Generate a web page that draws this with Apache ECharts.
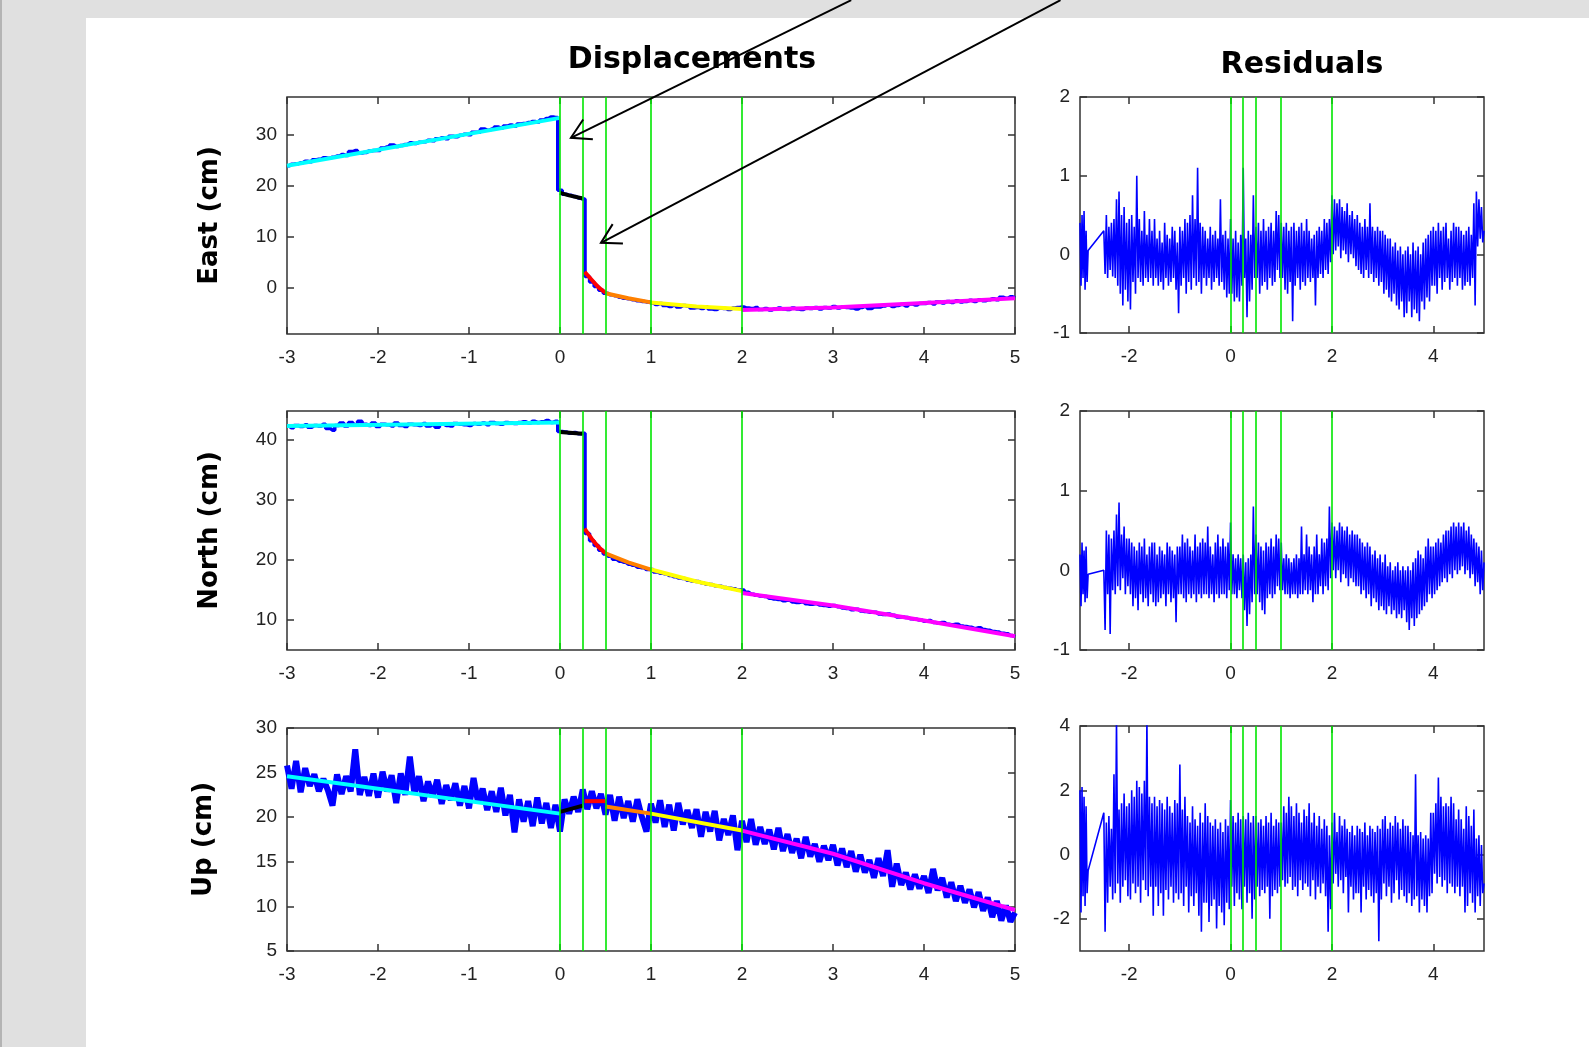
<!doctype html>
<html lang="en">
<head>
<meta charset="utf-8" />
<title>Displacements and residuals</title>
<script src="https://cdn.jsdelivr.net/npm/echarts@6/dist/echarts.min.js"></script>
<style>
  html, body { margin: 0; padding: 0; }
  body { width: 1589px; height: 1047px; background: #e0e0e0; position: relative; overflow: hidden; }
  #edge { position: absolute; left: 0; top: 0; width: 2px; height: 100%; background: #b4b4b4; }
  #sheet { position: absolute; left: 86px; top: 18px; right: 0; bottom: 0; background: #fff; }
  #chart { position: absolute; left: 0; top: 0; width: 1589px; height: 1047px; }
</style>
</head>
<body>
<div id="edge"></div>
<div id="sheet"></div>
<div id="chart"></div>
<script>
// sampling times (years); displacements every 0.05 yr from -3 to 5
const dispTimes = [];
for (let i = 0; i <= 160; i++) dispTimes.push(Math.round((-3 + i * 0.05) * 100) / 100);
// residuals: short piece before the data gap (every 0.02 yr), then every 0.025 yr from -2.5 to 5
const resTimes = [];
for (let i = 0; i <= 8; i++) resTimes.push(Math.round((-2.97 + i * 0.02) * 1000) / 1000);
for (let i = 0; i <= 300; i++) resTimes.push(Math.round((-2.5 + i * 0.025) * 1000) / 1000);

const eventTimes = [0, 0.25, 0.5, 1, 2];

// observed displacements (cm)
const eastObs = [
  24.0, 24.3, 24.4, 24.6, 24.9, 24.8, 25.2, 25.3, 25.6, 25.5,   // -3.00
  25.7, 25.9, 26.2, 26.0, 26.8, 27.0, 26.5, 26.6, 26.9, 27.0,   // -2.50
  27.0, 27.5, 27.7, 28.1, 27.8, 28.0, 28.2, 28.5, 28.4, 28.6,   // -2.00
  28.7, 29.0, 28.9, 29.3, 29.5, 29.3, 29.8, 29.7, 30.0, 30.2,   // -1.50
  30.1, 30.6, 30.6, 31.2, 31.0, 31.2, 31.6, 31.4, 31.8, 32.0,   // -1.00
  31.8, 32.2, 32.3, 32.5, 32.7, 32.6, 33.0, 33.3, 33.6, 33.5,   // -0.50
  19.2, 18.4, 18.2, 18.0, 17.7, 17.5, 2.3, 1.2, 0.3, -0.4,      //  0.00
  -1.0, -1.3, -1.5, -1.8, -2.0, -2.1, -2.3, -2.5, -2.6, -2.7,   //  0.50
  -2.9, -3.2, -3.0, -3.4, -3.6, -3.3, -3.7, -3.4, -3.5, -3.9,   //  1.00
  -3.8, -4.0, -3.7, -4.1, -4.2, -3.9, -4.0, -4.2, -3.9, -3.8,   //  1.50
  -3.7, -3.9, -4.0, -3.8, -4.2, -4.0, -4.3, -4.1, -3.9, -4.1,   //  2.00
  -4.2, -3.9, -4.1, -4.2, -3.9, -4.0, -3.8, -4.1, -3.8, -3.9,   //  2.50
  -3.6, -3.9, -3.7, -3.8, -3.9, -4.1, -3.8, -3.6, -4.0, -3.7,   //  3.00
  -3.7, -3.5, -3.3, -3.6, -3.4, -3.2, -3.5, -3.1, -3.3, -3.0,   //  3.50
  -3.0, -2.8, -3.1, -2.7, -2.9, -2.6, -2.8, -2.5, -2.7, -2.6,   //  4.00
  -2.4, -2.6, -2.3, -2.5, -2.3, -2.1, -2.3, -1.8, -2.0, -1.7,   //  4.50
  -1.9
];
const northObs = [
  42.3, 42.0, 42.4, 42.2, 42.5, 42.1, 42.4, 42.3, 42.6, 41.9,
  41.6, 42.4, 42.8, 42.3, 42.9, 42.5, 43.1, 42.6, 42.4, 42.8,
  42.2, 42.6, 42.5, 42.3, 42.8, 42.4, 42.2, 42.6, 42.5, 42.4,
  42.7, 42.3, 42.5, 42.1, 42.6, 42.4, 42.3, 42.7, 42.6, 42.5,
  42.4, 42.7, 42.6, 42.8, 42.5, 42.9, 42.7, 42.6, 42.9, 42.8,
  42.7, 42.9, 43.0, 42.8, 43.1, 42.9, 43.0, 43.2, 42.9, 43.1,
  41.4, 41.3, 41.1, 41.2, 41.0, 41.1, 24.4, 23.2, 22.4, 21.6,
  21.0, 20.6, 20.1, 19.8, 19.6, 19.3, 19.1, 18.8, 18.7, 18.4,
  18.4, 18.0, 17.8, 17.7, 17.4, 17.2, 17.0, 16.9, 16.6, 16.5,
  16.4, 16.2, 16.0, 15.9, 15.7, 15.6, 15.4, 15.3, 15.2, 15.0,
  15.0, 14.6, 14.3, 14.1, 14.0, 13.9, 13.6, 13.5, 13.4, 13.2,
  13.3, 13.0, 12.9, 13.0, 12.7, 12.6, 12.7, 12.5, 12.4, 12.3,
  12.4, 12.2, 12.0, 11.9, 11.7, 11.8, 11.5, 11.4, 11.3, 11.3,
  11.0, 10.9, 11.0, 10.8, 10.5, 10.5, 10.4, 10.2, 10.1, 10.0,
  9.8, 9.9, 9.6, 9.5, 9.6, 9.3, 9.2, 9.3, 9.0, 8.9,
  8.8, 8.6, 8.7, 8.4, 8.3, 8.1, 8.0, 7.8, 7.7, 7.4,
  7.2
];
const upObs = [
  25.8, 23.2, 26.3, 22.8, 25.5, 23.5, 24.8, 22.9, 24.3, 23.0,
  21.3, 24.8, 22.6, 24.6, 22.9, 27.6, 22.5, 24.5, 22.4, 24.9,
  22.2, 25.1, 22.9, 24.7, 21.6, 24.9, 22.5, 26.8, 22.6, 24.6,
  21.8, 24.0, 22.3, 24.2, 21.5, 23.6, 21.9, 23.8, 21.3, 23.5,
  21.0, 24.4, 21.6, 23.2, 20.8, 22.9, 20.6, 23.3, 20.2, 22.5,
  18.3, 22.0, 19.5, 21.8, 19.0, 22.2, 19.3, 21.6, 18.8, 21.4,
  18.4, 22.0, 20.4, 22.3, 20.6, 23.1, 20.9, 22.9, 21.0, 22.6,
  20.3, 22.5, 19.6, 22.3, 19.9, 21.8, 19.5, 22.0, 20.0, 18.4,
  21.5, 19.4, 21.9, 18.9, 21.4, 18.5, 21.6, 19.2, 20.8, 18.8,
  20.9, 17.8, 20.6, 18.4, 20.7, 17.4, 19.8, 18.0, 20.2, 16.3,
  19.6, 17.2, 19.8, 16.9, 18.9, 17.0, 18.6, 16.4, 18.8, 16.2,
  18.1, 16.0, 17.6, 15.4, 17.8, 15.6, 17.0, 15.0, 16.8, 15.2,
  16.9, 14.6, 16.5, 14.4, 16.2, 13.9, 15.8, 13.8, 15.2, 13.2,
  15.4, 13.4, 16.3, 12.2, 14.8, 12.4, 13.8, 11.9, 13.6, 12.0,
  13.4, 11.5, 14.2, 11.8, 13.2, 11.0, 12.7, 10.6, 12.3, 10.4,
  11.9, 9.9, 11.6, 9.5, 11.0, 8.8, 10.6, 8.4, 10.1, 8.3,
  9.3
];

// fitted model pieces, in order: pre-event, 0-0.25, 0.25-0.5, 0.5-1, 1-2, 2-5
const segColors = ['#00ffff', '#000000', '#ff0000', '#ff8000', '#ffff00', '#ff00ff'];
const eastModel = [
  [[-3, 24.0], [0, 33.4]],
  [[0, 18.7], [0.1, 18.2], [0.25, 17.6]],
  [[0.27, 3.2], [0.35, 1.6], [0.42, 0.2], [0.5, -0.9]],
  [[0.5, -1.0], [0.75, -2.0], [1.0, -2.8]],
  [[1.0, -2.8], [1.5, -3.6], [2.0, -4.1]],
  [[2.0, -4.3], [3.0, -3.8], [4.0, -2.9], [5.0, -2.0]]
];
const northModel = [
  [[-3, 42.3], [0, 42.9]],
  [[0, 41.3], [0.25, 41.0]],
  [[0.27, 25.2], [0.35, 23.5], [0.42, 22.2], [0.5, 21.1]],
  [[0.5, 21.1], [0.75, 19.6], [1.0, 18.4]],
  [[1.0, 18.4], [1.5, 16.4], [2.0, 14.8]],
  [[2.0, 14.5], [3.0, 12.4], [4.0, 9.9], [5.0, 7.3]]
];
const upModel = [
  [[-3, 24.6], [0, 20.4]],
  [[0, 20.6], [0.25, 21.3]],
  [[0.27, 21.8], [0.5, 21.8]],
  [[0.5, 21.2], [1.0, 20.4]],
  [[1.0, 20.4], [2.0, 18.5]],
  [[2.0, 18.5], [3.0, 15.9], [4.0, 12.6], [5.0, 9.6]]
];

// residuals (cm): 9 values before the gap, then 20 per half year from -2.5
const eastRes = [
  0.4, -0.4, 0.5, -0.3, 0.55, -0.45, 0.3, -0.35, 0.05,
  0.3, -0.25, 0.5, -0.3, 0.35, -0.2, 0.4, -0.28, 0.45, -0.3, 0.7, -0.4, 0.8, -0.5, 0.5, -0.65, 0.6, -0.45, 0.4, -0.6,         // -2.5
  0.45, -0.7, 0.5, -0.35, 0.35, -0.5, 1.0, -0.3, 0.45, -0.35, 0.3, -0.4, 0.55, -0.3, 0.25, -0.35, 0.45, -0.3, 0.3, -0.4,      // -2.0
  0.45, -0.3, 0.2, -0.4, 0.3, -0.35, 0.15, -0.45, 0.4, -0.3, 0.25, -0.4, 0.2, -0.35, 0.35, -0.3, 0.3, -0.45, 0.15, -0.75,     // -1.5
  0.35, -0.4, 0.3, -0.3, 0.45, -0.5, 0.4, -0.35, 0.5, -0.45, 0.75, -0.3, 0.45, -0.4, 1.1, -0.35, 0.4, -0.5, 0.35, -0.3,      // -1.0
  0.3, -0.4, 0.2, -0.3, 0.35, -0.45, 0.25, -0.35, 0.3, -0.3, 0.2, -0.4, 0.7, -0.35, 0.25, -0.45, 0.3, -0.55, 0.2, -0.5,       // -0.5
  0.45, -0.5, 0.2, -0.6, 0.3, -0.55, 0.15, -0.6, 0.25, -0.4, 1.1, -0.3, 0.2, -0.8, 0.3, -0.6, 0.25, -0.45, 0.75, -0.3,        //  0.0
  0.35, -0.3, 0.4, -0.5, 0.3, -0.4, 0.45, -0.35, 0.3, -0.45, 0.35, -0.3, 0.4, -0.4, 0.3, -0.35, 0.55, -0.2, 0.5, -0.3,        //  0.5
  0.4, -0.3, 0.35, -0.45, 0.4, -0.5, 0.3, -0.35, 0.35, -0.85, 0.4, -0.4, 0.3, -0.3, 0.35, -0.45, 0.4, -0.35, 0.3, -0.4,       //  1.0
  0.45, -0.3, 0.3, -0.35, 0.2, -0.3, 0.25, -0.65, 0.3, -0.3, 0.35, -0.25, 0.3, -0.3, 0.45, -0.2, 0.4, -0.25, 0.45, -0.1,      //  1.5
  0.75, 0.0, 0.7, 0.05, 0.65, 0.1, 0.7, -0.05, 0.6, 0.05, 0.55, 0.0, 0.65, -0.1, 0.5, 0.0, 0.55, -0.05, 0.45, -0.15,          //  2.0
  0.5, -0.2, 0.4, -0.25, 0.35, -0.3, 0.45, -0.2, 0.35, -0.3, 0.65, -0.25, 0.35, -0.35, 0.3, -0.3, 0.35, -0.4, 0.3, -0.35,     //  2.5
  0.3, -0.5, 0.25, -0.45, 0.2, -0.55, 0.2, -0.6, 0.1, -0.5, 0.15, -0.65, 0.05, -0.7, 0.1, -0.6, 0.0, -0.8, 0.05, -0.75,       //  3.0
  0.1, -0.6, 0.0, -0.8, 0.15, -0.7, 0.05, -0.75, 0.1, -0.85, 0.0, -0.6, 0.15, -0.7, 0.2, -0.55, 0.25, -0.6, 0.3, -0.4,        //  3.5
  0.35, -0.4, 0.3, -0.5, 0.4, -0.3, 0.3, -0.45, 0.35, -0.35, 0.4, -0.3, 0.2, -0.45, 0.3, -0.35, 0.4, -0.3, 0.35, -0.4,        //  4.0
  0.35, -0.3, 0.3, -0.45, 0.25, -0.4, 0.3, -0.35, 0.35, -0.4, 0.25, -0.3, 0.65, -0.65, 0.8, 0.1, 0.7, 0.2, 0.6, 0.15,         //  4.5
  0.3
];
const northRes = [
  0.2, -0.45, 0.35, -0.3, 0.25, -0.4, 0.3, -0.35, -0.05,
  0.0, -0.75, 0.5, -0.3, 0.45, -0.8, 0.4, -0.25, 0.5, -0.3, 0.7, -0.2, 0.85, -0.25, 0.45, -0.1, 0.55, -0.3, 0.4, -0.2,
  0.4, -0.3, 0.35, -0.45, 0.3, -0.35, 0.25, -0.5, 0.35, -0.3, 0.3, -0.4, 0.4, -0.35, 0.2, -0.45, 0.3, -0.3, 0.35, -0.4,
  0.35, -0.45, 0.2, -0.4, 0.3, -0.35, 0.25, -0.3, 0.2, -0.45, 0.35, -0.3, 0.3, -0.4, 0.25, -0.35, 0.2, -0.65, 0.3, -0.3,
  0.3, -0.3, 0.45, -0.35, 0.35, -0.4, 0.4, -0.3, 0.3, -0.35, 0.25, -0.3, 0.45, -0.4, 0.3, -0.3, 0.35, -0.35, 0.4, -0.3,
  0.35, -0.3, 0.55, -0.35, 0.3, -0.3, 0.2, -0.4, 0.35, -0.3, 0.45, -0.35, 0.3, -0.3, 0.4, -0.3, 0.3, -0.35, 0.35, -0.25,
  0.6, -0.3, 0.2, -0.3, 0.15, -0.35, 0.2, -0.25, 0.15, -0.35, 0.2, -0.5, 0.1, -0.7, 0.15, -0.55, 0.2, -0.4, 0.8, -0.3,
  0.45, -0.3, 0.35, -0.4, 0.3, -0.5, 0.25, -0.55, 0.35, -0.35, 0.3, -0.3, 0.4, -0.35, 0.3, -0.3, 0.45, -0.2, 0.4, -0.25,
  0.35, -0.25, 0.15, -0.3, 0.2, -0.3, 0.15, -0.35, 0.1, -0.3, 0.15, -0.3, 0.2, -0.35, 0.15, -0.3, 0.55, -0.3, 0.2, -0.25,
  0.45, -0.3, 0.3, -0.25, 0.2, -0.4, 0.3, -0.3, 0.45, -0.3, 0.2, -0.2, 0.4, -0.3, 0.35, -0.2, 0.4, -0.25, 0.8, -0.1,
  0.6, 0.0, 0.55, -0.1, 0.5, 0.0, 0.6, -0.15, 0.55, -0.05, 0.5, -0.1, 0.55, -0.2, 0.45, -0.1, 0.5, -0.15, 0.45, -0.2,
  0.45, -0.2, 0.4, -0.3, 0.35, -0.25, 0.3, -0.35, 0.35, -0.3, 0.3, -0.45, 0.2, -0.35, 0.25, -0.4, 0.15, -0.5, 0.2, -0.45,
  0.1, -0.5, 0.2, -0.55, 0.05, -0.45, 0.1, -0.55, 0.0, -0.5, 0.05, -0.6, 0.1, -0.55, 0.0, -0.6, 0.05, -0.5, 0.0, -0.65,
  0.05, -0.75, 0.0, -0.6, 0.1, -0.7, 0.15, -0.6, 0.25, -0.55, 0.2, -0.5, 0.15, -0.45, 0.3, -0.4, 0.4, -0.3, 0.3, -0.35,
  0.3, -0.3, 0.35, -0.25, 0.4, -0.2, 0.35, -0.15, 0.45, -0.1, 0.5, -0.15, 0.5, -0.05, 0.55, -0.1, 0.6, 0.0, 0.55, -0.05,
  0.6, 0.0, 0.55, 0.05, 0.6, -0.05, 0.5, 0.0, 0.55, -0.1, 0.45, -0.05, 0.4, -0.2, 0.35, -0.15, 0.3, -0.3, 0.25, -0.25,
  0.1
];
const upRes = [
  2.0, -1.8, 2.1, -1.3, 1.8, -1.6, 1.5, -1.2, -0.5,
  1.3, -2.4, 1.0, -1.5, 1.2, -1.0, 0.8, -1.4, 2.5, -1.2, 4.2, -0.9, 1.4, -1.5, 1.6, -1.0, 1.9, -0.8, 1.5, -1.3,
  1.6, -1.4, 2.0, -0.9, 1.8, -1.2, 2.3, -1.0, 2.1, -1.5, 1.9, -0.8, 2.3, -1.1, 4.2, -1.3, 1.8, -1.0, 1.6, -1.9,
  1.8, -1.0, 1.5, -1.6, 1.7, -1.2, 1.6, -1.9, 1.4, -1.1, 1.8, -1.4, 1.5, -1.0, 1.3, -1.5, 1.7, -1.2, 1.6, -1.4,
  2.8, -1.2, 1.4, -1.6, 1.8, -1.0, 1.2, -1.8, 1.0, -1.3, 1.5, -1.6, 1.1, -1.2, 0.9, -1.9, 1.3, -2.4, 1.0, -1.5,
  1.6, -1.5, 1.2, -2.1, 1.0, -1.6, 0.9, -1.4, 1.1, -2.3, 0.8, -1.6, 1.0, -1.8, 0.7, -2.2, 1.1, -1.5, 0.9, -1.7,
  1.7, -1.0, 1.2, -1.6, 1.0, -1.2, 1.3, -1.4, 1.1, -1.7, 1.2, -1.0, 1.1, -1.5, 1.3, -1.2, 1.0, -2.0, 1.2, -1.4,
  1.2, -1.0, 1.0, -1.3, 1.1, -1.1, 0.9, -1.2, 1.2, -1.0, 1.0, -2.0, 1.3, -1.3, 0.9, -1.1, 1.1, -1.2, 1.0, -1.0,
  1.0, -0.8, 1.5, -1.0, 1.3, -0.9, 1.8, -0.7, 1.5, -1.1, 1.2, -1.0, 1.6, -1.3, 1.3, -0.8, 1.0, -1.1, 1.4, -0.9,
  1.2, -1.0, 1.6, -1.3, 1.0, -0.8, 1.3, -1.4, 0.9, -1.0, 1.2, -1.2, 0.8, -0.9, 1.1, -1.3, 0.9, -2.4, 0.6, -1.7,
  1.0, -0.9, 1.3, -0.6, 0.7, -1.0, 1.2, -0.8, 0.9, -1.2, 1.1, -0.7, 0.8, -1.8, 0.7, -1.0, 0.9, -1.4, 0.6, -1.2,
  0.9, -1.2, 0.8, -1.8, 0.7, -1.0, 1.0, -1.4, 0.6, -1.1, 0.9, -1.3, 0.8, -1.5, 0.7, -1.2, 0.9, -2.7, 0.8, -1.4,
  1.1, -0.9, 1.2, -1.3, 0.8, -1.0, 1.0, -1.5, 0.9, -1.2, 1.2, -0.8, 1.0, -1.4, 0.8, -1.1, 1.1, -1.3, 0.9, -1.5,
  0.9, -1.2, 0.7, -1.6, 0.6, -1.4, 2.5, -1.3, 0.6, -1.8, 0.7, -1.4, 0.5, -1.6, 0.6, -1.8, 0.5, -1.3, 1.3, -1.2,
  1.3, -0.6, 1.6, -0.9, 2.4, -0.7, 1.8, -1.0, 1.5, -0.8, 1.6, -1.2, 1.5, -0.9, 1.8, -1.0, 1.6, -1.2, 1.1, -1.0,
  1.4, -1.3, 1.1, -1.0, 0.8, -1.8, 1.5, -1.6, 1.2, -1.2, 0.9, -1.5, 1.4, -1.8, 0.5, -1.3, 0.6, -1.6, 0.3, -1.2,
  -0.9
];

// axis ranges and tick values
const dispNames = ['East (cm)', 'North (cm)', 'Up (cm)'];
const dispYRange = [[-9, 37.5], [5, 44.8], [5, 30]];
const dispYTicks = [[0, 10, 20, 30], [10, 20, 30, 40], [5, 10, 15, 20, 25, 30]];
const dispXTicks = [-3, -2, -1, 0, 1, 2, 3, 4, 5];
const resYRange = [[-1, 2], [-1, 2], [-3, 4]];
const resYTicks = [[-1, 0, 1, 2], [-1, 0, 1, 2], [-2, 0, 2, 4]];
const resXTicks = [-2, 0, 2, 4];

// annotation arrows, in East-panel data units
const arrowTips = [[0.12, 29.5], [0.45, 8.9]];
const arrowTails = [[3.2, 56.5], [5.5, 56.5]];

const FONT = '"Liberation Sans", Arial, sans-serif';
const BOLD = '"DejaVu Sans", sans-serif';

const pairs = (times, values) => values.map((v, i) => [times[i], v]);

const leftBoxes = [{ top: 97, height: 237 }, { top: 411, height: 239 }, { top: 728, height: 223 }];
const rightBoxes = [{ top: 97, height: 236 }, { top: 411, height: 239 }, { top: 726, height: 225 }];

function makeAxis(gridIndex, range, ticks, position, labels) {
  return {
    type: 'value', gridIndex, position, min: range[0], max: range[1],
    axisLine: { show: false, onZero: false },
    axisTick: { show: true, inside: true, length: 7, customValues: ticks, lineStyle: { color: '#333', width: 1.5 } },
    axisLabel: {
      show: labels, customValues: ticks, fontFamily: FONT, fontSize: 19, color: '#222',
      margin: position === 'bottom' ? 14 : 10
    },
    splitLine: { show: false }
  };
}

function greenLines(g) {
  return {
    type: 'line', xAxisIndex: 2 * g, yAxisIndex: 2 * g, data: [], z: 5, silent: true,
    markLine: {
      symbol: ['none', 'none'], silent: true, animation: false, label: { show: false },
      lineStyle: { color: '#00e600', width: 1.6, type: 'solid' },
      data: eventTimes.map(t => ({ xAxis: t }))
    }
  };
}

const grid = [], xAxis = [], yAxis = [], series = [];
const obs = [eastObs, northObs, upObs];
const models = [eastModel, northModel, upModel];
const res = [eastRes, northRes, upRes];
const nameGaps = [64, 64, 70];

for (let k = 0; k < 3; k++) {
  // displacement panel
  let g = grid.length;
  grid.push({ left: 287, width: 728, top: leftBoxes[k].top, height: leftBoxes[k].height, show: true, borderColor: '#333', borderWidth: 1.5 });
  xAxis.push(makeAxis(g, [-3, 5], dispXTicks, 'bottom', true));
  xAxis.push(makeAxis(g, [-3, 5], dispXTicks, 'top', false));
  const yl = makeAxis(g, dispYRange[k], dispYTicks[k], 'left', true);
  yl.name = dispNames[k];
  yl.nameLocation = 'middle';
  yl.nameGap = nameGaps[k];
  yl.nameTextStyle = { fontFamily: BOLD, fontWeight: 'bold', fontSize: 26, color: '#000' };
  yAxis.push(yl);
  yAxis.push(makeAxis(g, dispYRange[k], dispYTicks[k], 'right', false));
  const blue = {
    type: 'line', xAxisIndex: 2 * g, yAxisIndex: 2 * g, data: pairs(dispTimes, obs[k]),
    symbol: 'none', silent: true, z: 2,
    lineStyle: { color: '#0000ff', width: 3.5, join: 'bevel' }
  };
  if (k === 2) blue.lineStyle.width = 6;   // the noisy vertical shows as a thick band
  else blue.step = 'middle';
  series.push(blue);
  models[k].forEach((seg, j) => {
    series.push({
      type: 'line', xAxisIndex: 2 * g, yAxisIndex: 2 * g, data: seg, symbol: 'none', silent: true, z: 3,
      lineStyle: { color: segColors[j], width: 4 }
    });
  });
  series.push(greenLines(g));

  // residual panel
  g = grid.length;
  grid.push({ left: 1080, width: 404, top: rightBoxes[k].top, height: rightBoxes[k].height, show: true, borderColor: '#333', borderWidth: 1.5 });
  xAxis.push(makeAxis(g, [-2.97, 5], resXTicks, 'bottom', true));
  xAxis.push(makeAxis(g, [-2.97, 5], resXTicks, 'top', false));
  yAxis.push(makeAxis(g, resYRange[k], resYTicks[k], 'left', true));
  yAxis.push(makeAxis(g, resYRange[k], resYTicks[k], 'right', false));
  series.push({
    type: 'line', xAxisIndex: 2 * g, yAxisIndex: 2 * g, data: pairs(resTimes, res[k]),
    symbol: 'none', silent: true, z: 2, lineStyle: { color: '#0000ff', width: 1.6, join: 'bevel' }
  });
  series.push(greenLines(g));
}

const chart = echarts.init(document.getElementById('chart'), null, { renderer: 'canvas' });
chart.setOption({
  animation: false,
  backgroundColor: 'transparent',
  grid, xAxis, yAxis, series
});

// titles plus arrows pointing at the two jumps in the East panel
const graphics = [
  { type: 'text', x: 692, y: 60, z: 100, style: { text: 'Displacements', fontFamily: BOLD, fontWeight: 'bold', fontSize: 30, fill: '#000', align: 'center', verticalAlign: 'middle' } },
  { type: 'text', x: 1302, y: 65, z: 100, style: { text: 'Residuals', fontFamily: BOLD, fontWeight: 'bold', fontSize: 30, fill: '#000', align: 'center', verticalAlign: 'middle' } }
];
arrowTips.forEach((tip, i) => {
  const p = chart.convertToPixel({ xAxisIndex: 0, yAxisIndex: 0 }, tip);
  const q = chart.convertToPixel({ xAxisIndex: 0, yAxisIndex: 0 }, arrowTails[i]);
  const ang = Math.atan2(q[1] - p[1], q[0] - p[0]);
  const len = 22, spread = Math.PI / 6;
  const b1 = [p[0] + len * Math.cos(ang - spread), p[1] + len * Math.sin(ang - spread)];
  const b2 = [p[0] + len * Math.cos(ang + spread), p[1] + len * Math.sin(ang + spread)];
  graphics.push({ type: 'line', z: 100, shape: { x1: q[0], y1: q[1], x2: p[0], y2: p[1] }, style: { stroke: '#000', lineWidth: 2 } });
  graphics.push({ type: 'polyline', z: 100, shape: { points: [b1, p, b2] }, style: { stroke: '#000', lineWidth: 2, fill: null } });
});
chart.setOption({ graphic: graphics });
</script>
</body>
</html>
